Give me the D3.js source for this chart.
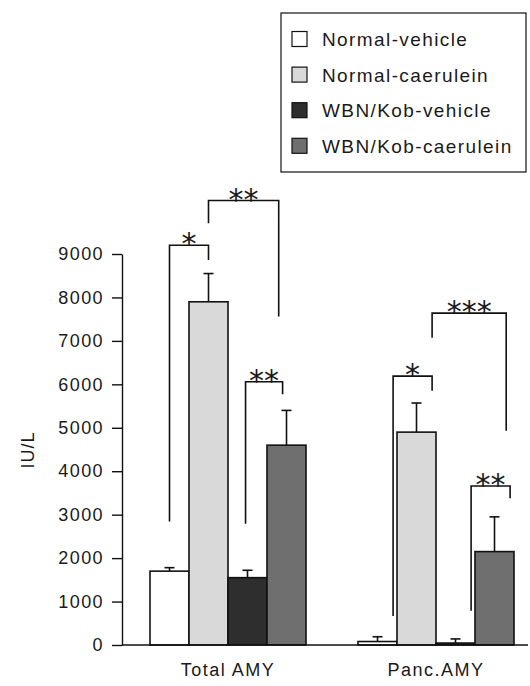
<!DOCTYPE html>
<html>
<head>
<meta charset="utf-8">
<script src="https://cdnjs.cloudflare.com/ajax/libs/d3/7.8.5/d3.min.js"></script>
<style>
    body { margin: 0; background: #fff; }
    text { font-family: "Liberation Sans", Arial, sans-serif; fill: #1a1a1a; }
    .star { font-family: "DejaVu Sans", sans-serif; }
</style>
</head>
<body>
<div id="chart"></div>
<script>
const width = 530, height = 686;

// data
const groups = ["Total AMY", "Panc.AMY"];
const series = ["Normal-vehicle", "Normal-caerulein", "WBN/Kob-vehicle", "WBN/Kob-caerulein"];
const means = [
    [1700, 7900, 1550, 4600],
    [80, 4900, 45, 2150]
];
const errors = [
    [80, 650, 170, 800],
    [110, 670, 95, 800]
];
const yTicks = [0, 1000, 2000, 3000, 4000, 5000, 6000, 7000, 8000, 9000];
const fills = ["#ffffff", "#d9d9d9", "#2e2e2e", "#6f6f6f"];

// significance brackets: group, left bar, right bar, top, left leg end, right leg end, label
const brackets = [
    { g: 0, a: 0, b: 1, top: 9200, la: 2840, lb: 8860, label: "*" },
    { g: 0, a: 1, b: 2.8, top: 10230, la: 9710, lb: 7560, label: "**" },
    { g: 0, a: 1.95, b: 2.9, top: 6060, la: 2790, lb: 5770, label: "**" },
    { g: 1, a: 0.4, b: 1.4, top: 6190, la: 670, lb: 5850, label: "*" },
    { g: 1, a: 1.4, b: 3.3, top: 7640, la: 7070, lb: 4930, label: "***" },
    { g: 1, a: 2.4, b: 3.4, top: 3660, la: 790, lb: 3380, label: "**" }
];

var svg = d3.select("#chart").append("svg")
    .attr("width", width)
    .attr("height", height);

var axisX = 122, baseY = 645;

var y = d3.scaleLinear().domain([0, 9000]).range([baseY, 254]);

var x0 = d3.scaleBand().domain(groups).range([150, 514]).paddingInner(0.25);
var x1 = d3.scaleBand().domain(series).range([0, x0.bandwidth()]);

// position of a (possibly fractional) bar index inside a group
function barCenter(g, i) {
    return x0(groups[g]) + (i + 0.5) * x1.step();
}

// bars
var group = svg.selectAll(".group")
    .data(groups)
    .enter()
    .append("g")
    .attr("class", "group")
    .attr("transform", function (d) { return "translate(" + x0(d) + ",0)"; });

group.selectAll("rect")
    .data(function (d, gi) {
        return series.map(function (s, i) { return { s: s, i: i, v: means[gi][i], e: errors[gi][i] }; });
    })
    .enter()
    .append("rect")
    .attr("x", function (d) { return x1(d.s); })
    .attr("y", function (d) { return y(d.v); })
    .attr("width", x1.bandwidth())
    .attr("height", function (d) { return baseY - y(d.v); })
    .attr("fill", function (d) { return fills[d.i]; })
    .attr("stroke", "#111")
    .attr("stroke-width", 1.6);

// error bars
var err = group.selectAll(".err")
    .data(function (d, gi) {
        return series.map(function (s, i) { return { s: s, v: means[gi][i], e: errors[gi][i] }; });
    })
    .enter()
    .append("g")
    .attr("class", "err")
    .attr("transform", function (d) { return "translate(" + (x1(d.s) + x1.bandwidth() / 2) + ",0)"; });

err.append("line")
    .attr("y1", function (d) { return y(d.v); })
    .attr("y2", function (d) { return y(d.v + d.e); })
    .attr("stroke", "#111")
    .attr("stroke-width", 1.6);

err.append("line")
    .attr("x1", -5).attr("x2", 5)
    .attr("y1", function (d) { return y(d.v + d.e); })
    .attr("y2", function (d) { return y(d.v + d.e); })
    .attr("stroke", "#111")
    .attr("stroke-width", 1.6);

// y axis
var yAxis = svg.append("g")
    .attr("transform", "translate(" + axisX + ",0)")
    .call(d3.axisLeft(y).tickValues(yTicks).tickFormat(d3.format("d"))
        .tickSize(10).tickPadding(8).tickSizeOuter(0));

yAxis.select(".domain").attr("stroke", "#111").attr("stroke-width", 1.4);
yAxis.selectAll(".tick line").attr("stroke", "#111").attr("stroke-width", 1.4);
yAxis.selectAll(".tick text")
    .attr("font-size", 18)
    .attr("letter-spacing", 1.4)
    .style("font-family", "'Liberation Sans', Arial, sans-serif")
    .attr("fill", "#1a1a1a");

svg.append("text")
    .attr("transform", "translate(34,450) rotate(-90)")
    .attr("text-anchor", "middle")
    .attr("font-size", 18)
    .attr("letter-spacing", 1)
    .text("IU/L");

// baseline
svg.append("line")
    .attr("x1", axisX).attr("x2", 528)
    .attr("y1", baseY).attr("y2", baseY)
    .attr("stroke", "#111")
    .attr("stroke-width", 1.4);

svg.selectAll(".glabel")
    .data(groups)
    .enter()
    .append("text")
    .attr("class", "glabel")
    .attr("x", function (d) { return x0(d) + x0.bandwidth() / 2; })
    .attr("y", 676)
    .attr("text-anchor", "middle")
    .attr("font-size", 18)
    .attr("letter-spacing", 1.5)
    .text(function (d) { return d; });

// brackets
var br = svg.selectAll(".bracket")
    .data(brackets)
    .enter()
    .append("g")
    .attr("class", "bracket");

br.append("path")
    .attr("d", function (d) {
        var xa = barCenter(d.g, d.a), xb = barCenter(d.g, d.b);
        return "M" + xa + "," + y(d.la) + "V" + y(d.top) + "H" + xb + "V" + y(d.lb);
    })
    .attr("fill", "none")
    .attr("stroke", "#111")
    .attr("stroke-width", 1.6);

br.append("text")
    .attr("class", "star")
    .attr("x", function (d) { return (barCenter(d.g, d.a) + barCenter(d.g, d.b)) / 2; })
    .attr("y", function (d) { return y(d.top) + 9; })
    .attr("text-anchor", "middle")
    .attr("font-size", 30)
    .attr("letter-spacing", 0)
    .text(function (d) { return d.label; });

// legend
var legend = svg.append("g").attr("class", "legend");

legend.append("rect")
    .attr("x", 281).attr("y", 13)
    .attr("width", 245).attr("height", 159)
    .attr("fill", "#fff")
    .attr("stroke", "#111")
    .attr("stroke-width", 1.2);

var item = legend.selectAll(".item")
    .data(series)
    .enter()
    .append("g")
    .attr("class", "item")
    .attr("transform", function (d, i) { return "translate(292," + (39 + i * 35.6) + ")"; });

item.append("rect")
    .attr("x", 0).attr("y", -7.5)
    .attr("width", 15).attr("height", 15)
    .attr("fill", function (d, i) { return fills[i]; })
    .attr("stroke", "#111")
    .attr("stroke-width", 1.2);

item.append("text")
    .attr("x", 30)
    .attr("y", 7)
    .attr("font-size", 19)
    .attr("letter-spacing", 1.4)
    .text(function (d) { return d; });
</script>
</body>
</html>
